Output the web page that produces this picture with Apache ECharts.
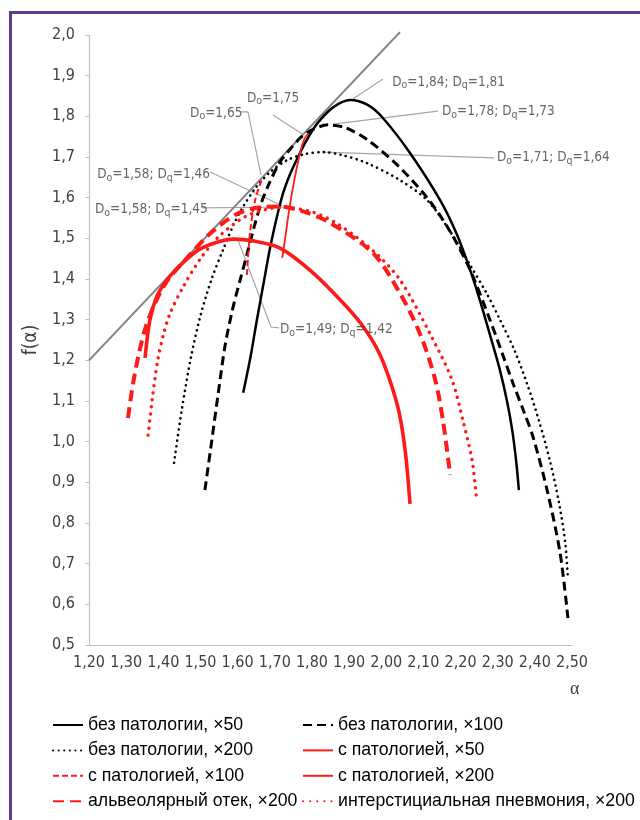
<!DOCTYPE html>
<html>
<head>
<meta charset="utf-8">
<script src="https://cdn.jsdelivr.net/npm/echarts@6/dist/echarts.min.js"></script>
<style>
html,body{margin:0;padding:0;background:#fff;overflow:hidden;}
#frame{position:absolute;left:9px;top:11px;width:800px;height:1000px;border:3px solid #5d3b8e;box-sizing:border-box;}
#chart{position:absolute;left:0;top:0;width:640px;height:820px;}
</style>
</head>
<body>
<div id="frame"></div>
<div id="chart"></div>
<script>
// ---- data ----
const xTicks = {min: 1.2, max: 2.5, interval: 0.1};
const yTicks = {min: 0.5, max: 2.0, interval: 0.1};

const tangentLine = [[1.2, 1.2], [2.037, 2.007]];

const noPath50 = [[1.615,1.12],[1.635,1.21],[1.652,1.30],[1.67,1.39],[1.687,1.475],[1.705,1.55],[1.722,1.61],[1.74,1.655],[1.76,1.695],[1.785,1.74],[1.814,1.782],[1.857,1.822],[1.903,1.84],[1.95,1.828],[1.991,1.796],[2.064,1.71],[2.145,1.594],[2.19,1.51],[2.226,1.422],[2.252,1.348],[2.28,1.26],[2.306,1.176],[2.325,1.10],[2.339,1.029],[2.35,0.95],[2.357,0.881]];
const noPath100 = [[1.512,0.881],[1.53,1.00],[1.548,1.12],[1.566,1.235],[1.585,1.32],[1.606,1.395],[1.625,1.46],[1.645,1.53],[1.665,1.59],[1.685,1.635],[1.714,1.688],[1.74,1.718],[1.77,1.748],[1.803,1.768],[1.843,1.779],[1.89,1.772],[1.95,1.742],[2.03,1.68],[2.11,1.60],[2.17,1.52],[2.226,1.422],[2.279,1.30],[2.315,1.21],[2.341,1.144],[2.37,1.075],[2.395,1.012],[2.433,0.881],[2.468,0.726],[2.489,0.566]];
const noPath200 = [[1.429,0.948],[1.45,1.08],[1.475,1.21],[1.50,1.31],[1.53,1.40],[1.56,1.47],[1.59,1.535],[1.615,1.578],[1.65,1.626],[1.69,1.665],[1.733,1.692],[1.78,1.707],[1.83,1.712],[1.88,1.705],[1.948,1.685],[2.037,1.643],[2.11,1.594],[2.17,1.52],[2.226,1.434],[2.27,1.365],[2.306,1.30],[2.345,1.225],[2.38,1.14],[2.41,1.055],[2.44,0.955],[2.465,0.85],[2.482,0.75],[2.489,0.662]];
const path50 = [[1.72,1.452],[1.728,1.50],[1.736,1.553],[1.749,1.626],[1.768,1.71],[1.78,1.745],[1.79,1.757]];
const path100 = [[1.625,1.41],[1.633,1.51],[1.647,1.593],[1.665,1.645]];
const path200 = [[1.351,1.206],[1.364,1.30],[1.383,1.358],[1.41,1.398],[1.453,1.44],[1.499,1.474],[1.553,1.493],[1.59,1.498],[1.64,1.494],[1.714,1.476],[1.803,1.415],[1.894,1.331],[1.94,1.28],[1.98,1.22],[2.01,1.15],[2.035,1.07],[2.052,0.97],[2.064,0.847]];
const alveolar200 = [[1.305,1.058],[1.318,1.14],[1.335,1.22],[1.352,1.28],[1.375,1.335],[1.41,1.395],[1.464,1.452],[1.526,1.512],[1.598,1.56],[1.668,1.577],[1.714,1.578],[1.78,1.565],[1.849,1.538],[1.964,1.464],[2.037,1.365],[2.091,1.265],[2.131,1.155],[2.153,1.05],[2.172,0.918]];
const intersticial200 = [[1.359,1.016],[1.37,1.103],[1.385,1.20],[1.40,1.262],[1.418,1.315],[1.453,1.38],[1.50,1.45],[1.55,1.505],[1.62,1.553],[1.68,1.572],[1.72,1.576],[1.80,1.565],[1.87,1.535],[1.964,1.47],[2.037,1.398],[2.118,1.265],[2.177,1.152],[2.207,1.05],[2.231,0.955],[2.242,0.869]];

const seriesNames = [
  'без патологии, ×50', 'без патологии, ×100',
  'без патологии, ×200', 'с патологией, ×50',
  'с патологией, ×100', 'с патологией, ×200',
  'альвеолярный отек, ×200', 'интерстициальная пневмония, ×200'
];

// annotations: D0, Dq, text anchor [α,f], leader points [α,f]
const annotations = [
  {d0:'1,84', dq:'1,81', at:[2.016,1.884], leader:[[1.991,1.892],[1.911,1.843]]},
  {d0:'1,78', dq:'1,73', at:[2.150,1.811], leader:[[2.139,1.813],[1.857,1.781]]},
  {d0:'1,71', dq:'1,64', at:[2.298,1.698], leader:[[2.290,1.698],[1.830,1.712]]},
  {d0:'1,75', dq:null,   at:[1.625,1.845], leader:[[1.695,1.803],[1.773,1.757]]},
  {d0:'1,65', dq:null,   at:[1.472,1.808], leader:[[1.609,1.811],[1.628,1.811],[1.663,1.656]]},
  {d0:'1,58', dq:'1,46', at:[1.222,1.656], leader:[[1.526,1.663],[1.720,1.580]]},
  {d0:'1,58', dq:'1,45', at:[1.216,1.570], leader:[[1.504,1.575],[1.733,1.577]]},
  {d0:'1,49', dq:'1,42', at:[1.714,1.275], leader:[[1.711,1.280],[1.690,1.282],[1.601,1.496]]}
];

// ---- chart ----
const chart = echarts.init(document.getElementById('chart'), null, {renderer:'canvas'});
const narrow = "'Liberation Sans Narrow', 'DejaVu Sans Condensed', 'Liberation Sans', sans-serif";
const legendFont = "'Liberation Sans', Arial, sans-serif";

function curve(name, data, color, width, type, cap){
  return {
    name, type:'line', data, smooth:0.3, symbol:'none', showSymbol:false,
    clip:true, silent:true,
    lineStyle:{color, width, type, cap: cap || 'butt'},
    itemStyle:{color},
    z: 3
  };
}

const series = [
  {type:'line', name:'tangent', data:tangentLine, symbol:'none', silent:true, clip:false,
   lineStyle:{color:'#808080', width:2}, z:2},
  curve(seriesNames[0], noPath50, '#000000', 2.5, 'solid'),
  curve(seriesNames[1], noPath100, '#000000', 3, [9,5]),
  curve(seriesNames[2], noPath200, '#000000', 2.6, [0.1,5.5], 'round'),
  curve(seriesNames[3], path50, '#ff1a1a', 1.8, 'solid'),
  curve(seriesNames[4], path100, '#ff1a1a', 2, [6,3]),
  curve(seriesNames[5], path200, '#ff1a1a', 3.6, 'solid'),
  curve(seriesNames[6], alveolar200, '#ff1a1a', 4, [11,6]),
  curve(seriesNames[7], intersticial200, '#ff1a1a', 3.4, [0.1,7], 'round')
];

annotations.forEach((a, i) => {
  series.push({type:'line', name:'leader'+i, data:a.leader, symbol:'none', silent:true,
    lineStyle:{color:'#a6a6a6', width:1.2}, z:1});
  const txt = a.dq ? `{d|D}{s|o}{d|=${a.d0}; D}{s|q}{d|=${a.dq}}` : `{d|D}{s|o}{d|=${a.d0}}`;
  series.push({type:'scatter', name:'ann'+i, data:[a.at], symbolSize:0, silent:true, z:5,
    label:{show:true, position:'right', distance:0, formatter: () => txt,
      rich:{
        d:{fontFamily:narrow, fontSize:13.5, color:'#404040', lineHeight:18},
        s:{fontFamily:narrow, fontSize:10.5, color:'#404040', lineHeight:18, verticalAlign:'bottom'}
      }}});
});

const legendBase = {
  orient:'vertical', itemWidth:30, itemHeight:18, itemGap:7.4, padding:0, height:110,
  textStyle:{fontFamily:legendFont, fontSize:17.7, color:'#000', lineHeight:18},
  itemStyle:{color:'transparent', borderColor:'transparent', borderWidth:0},
  selectedMode:false
};

chart.setOption({
  animation:false,
  backgroundColor:'transparent',
  grid:{left:89, right:68, top:35, bottom:175},
  xAxis:{type:'value', min:xTicks.min, max:xTicks.max, interval:xTicks.interval,
    axisLine:{show:true, lineStyle:{color:'#bfbfbf', width:1.2}},
    axisTick:{show:false}, splitLine:{show:false},
    axisLabel:{margin:10, color:'#404040', fontFamily:narrow, fontSize:16,
      formatter:v => v.toFixed(2).replace('.', ',')}},
  yAxis:{type:'value', min:yTicks.min, max:yTicks.max, interval:yTicks.interval,
    name:'f(α)', nameLocation:'middle', nameGap:48,
    nameTextStyle:{fontFamily:narrow, fontSize:19, color:'#404040'},
    axisLine:{show:true, lineStyle:{color:'#bfbfbf', width:1.2}},
    axisTick:{show:true, length:4, lineStyle:{color:'#bfbfbf'}}, splitLine:{show:false},
    axisLabel:{margin:14, color:'#404040', fontFamily:narrow, fontSize:16,
      formatter:v => v.toFixed(1).replace('.', ',')}},
  legend:[
    Object.assign({}, legendBase, {left:52, top:716, data:[seriesNames[0],seriesNames[2],seriesNames[4],seriesNames[6]]}),
    Object.assign({}, legendBase, {left:302, top:716, data:[seriesNames[1],seriesNames[3],seriesNames[5],seriesNames[7]]})
  ],
  graphic:[{type:'text', left:570, top:680, style:{text:'α', fontFamily:"'Liberation Serif', serif", fontSize:18, fill:'#404040'}}],
  series
});
</script>
</body>
</html>
